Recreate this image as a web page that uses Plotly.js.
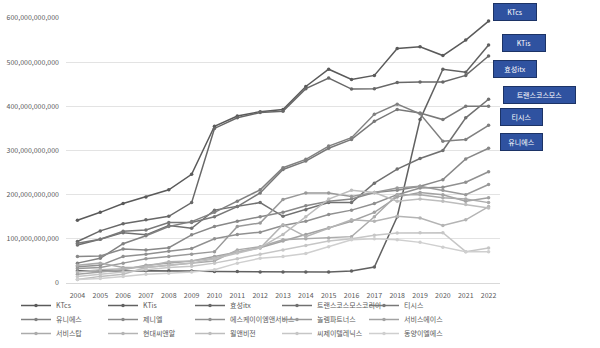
<!DOCTYPE html>
<html>
<head>
<meta charset="utf-8">
<script src="https://cdn.plot.ly/plotly-3.0.1.min.js"></script>
<style>html,body{margin:0;padding:0;background:#fff;}#chart{width:600px;height:348px;}</style>
</head>
<body>
<div id="chart"></div>
<script>
// Years (category axis)
const years = ['2004','2005','2006','2007','2008','2009','2010','2011','2012','2013','2014','2015','2016','2017','2018','2019','2020','2021','2022'];

// Series values in billions of KRW
const KTcs = [142,160,180,195,211,246,355,378,388,393,445,484,461,470,531,535,515,550,593];
const KTis = [28,27,27,28,28,27,26,26,25,25,25,25,27,36,150,370,484,477,539];
const hyosung = [94,118,134,143,151,182,350,374,386,389,440,464,439,440,454,455,455,470,514];
const transcosmos = [86,99,114,109,130,124,165,173,182,151,166,182,182,226,258,282,300,374,416];
const tsis = [90,99,117,120,137,137,150,173,204,257,276,305,325,366,393,385,370,400,400];
const unies = [45,56,89,107,128,139,160,185,211,261,280,310,329,382,405,383,321,325,357];
const geniel = [60,61,77,75,80,109,128,140,150,160,175,185,190,205,210,219,234,281,305];
const skems = [37,40,60,65,72,78,100,110,115,130,140,155,165,180,200,215,217,228,252];
const partners = [33,35,45,55,60,65,71,128,136,189,204,204,196,205,215,219,210,200,223];
const serviceAce = [20,25,30,40,45,50,60,70,80,95,110,125,140,160,195,205,200,185,193];
const serviceTop = [40,45,35,35,40,45,50,75,82,98,100,102,105,150,200,200,193,190,182];
const hyundaiCnR = [25,30,32,38,48,50,56,71,79,132,105,124,143,140,151,147,130,143,173];
const willVision = [8,15,20,35,40,45,55,68,80,110,150,190,210,205,185,190,185,178,170];
const cjTelenix = [15,20,25,30,35,38,45,55,65,75,85,95,100,108,113,114,114,71,79];
const dongyang = [8,10,15,20,22,25,30,45,56,60,67,82,98,100,98,92,81,71,71];

const seriesNames = ['KTcs','KTis','효성itx','트랜스코스모스코리아','티시스','유니에스','제니엘','에스케이이엠앤서비스','놀렘파트너스','서비스에이스','서비스탑','현대씨앤알','윌앤비전','씨제이텔레닉스','동양이엘에스'];
const seriesValues = [KTcs,KTis,hyosung,transcosmos,tsis,unies,geniel,skems,partners,serviceAce,serviceTop,hyundaiCnR,willVision,cjTelenix,dongyang];
const seriesColors = ['#5a5a5a','#616161','#686868','#707070','#787878','#808080','#888888','#909090','#999999','#a2a2a2','#ababab','#b4b4b4','#bdbdbd','#c6c6c6','#cfcfcf'];

// Box labels at the right
const labelTexts = ['KTcs','KTis','효성itx','트랜스코스모스','티시스','유니에스'];

const UNIT = 1e9;
const legendIds = ['legend','legend2','legend3'];
const traces = seriesNames.map((name, i) => ({
  type: 'scatter',
  mode: 'lines+markers',
  name: name,
  legend: legendIds[Math.floor(i / 5)],
  x: years,
  y: seriesValues[i].map(v => v * UNIT),
  line: {color: seriesColors[i], width: 1.5},
  marker: {color: seriesColors[i], size: 3.5, symbol: 'circle'},
  hoverinfo: 'x+y+name'
}));

// Pixel helpers for placing label boxes / legends
const L = 66, R = 100, T = 18, B = 65, W = 600, H = 348;
const pw = W - L - R, ph = H - T - B;
const px = x => (x - L) / pw;
const py = y => (H - B - y) / ph;
const boxes = [
  {x: 493, y: 3, w: 44},
  {x: 502, y: 34, w: 44},
  {x: 493, y: 60, w: 44},
  {x: 503, y: 86, w: 73},
  {x: 500, y: 108, w: 43},
  {x: 500, y: 133, w: 43}
];
const annotations = labelTexts.map((t, i) => ({
  xref: 'paper', yref: 'paper',
  x: px(boxes[i].x), y: py(boxes[i].y),
  xanchor: 'left', yanchor: 'top',
  text: t, showarrow: false,
  font: {family: 'Noto Sans CJK KR, Noto Sans, sans-serif', size: 7, color: '#ffffff'},
  bgcolor: '#2f52a0', bordercolor: '#1c3366', borderwidth: 1, borderpad: 0,
  width: boxes[i].w - 2, height: 16, align: 'center', valign: 'middle'
}));

const legendBase = top => ({
  orientation: 'h', x: px(16), y: py(top), xanchor: 'left', yanchor: 'top',
  entrywidth: 42, font: {size: 7, color: '#595959'}, bgcolor: 'rgba(0,0,0,0)'
});

const layout = {
  width: W, height: H,
  margin: {l: L, r: R, t: T, b: B, autoexpand: false},
  paper_bgcolor: '#ffffff', plot_bgcolor: '#ffffff',
  font: {family: 'Noto Sans CJK KR, Noto Sans, sans-serif', size: 7, color: '#595959'},
  showlegend: true,
  legend: legendBase(291),
  legend2: legendBase(305),
  legend3: legendBase(319),
  xaxis: {
    type: 'category', range: [-0.5, 18.5], showgrid: false, zeroline: false,
    showline: false, ticks: '', tickfont: {size: 7, color: '#595959'}, ticklabelstandoff: 7, fixedrange: true
  },
  yaxis: {
    range: [0, 600 * UNIT], dtick: 100 * UNIT, tickformat: ',.0f',
    showgrid: true, gridcolor: '#e3e3e3', gridwidth: 1, zeroline: true, zerolinecolor: '#d9d9d9',
    showline: false, ticks: '', tickfont: {size: 7, color: '#595959'}, ticklabelstandoff: 6, fixedrange: true
  },
  annotations: annotations
};

Plotly.newPlot('chart', traces, layout, {displayModeBar: false, staticPlot: true});
</script>
</body>
</html>
